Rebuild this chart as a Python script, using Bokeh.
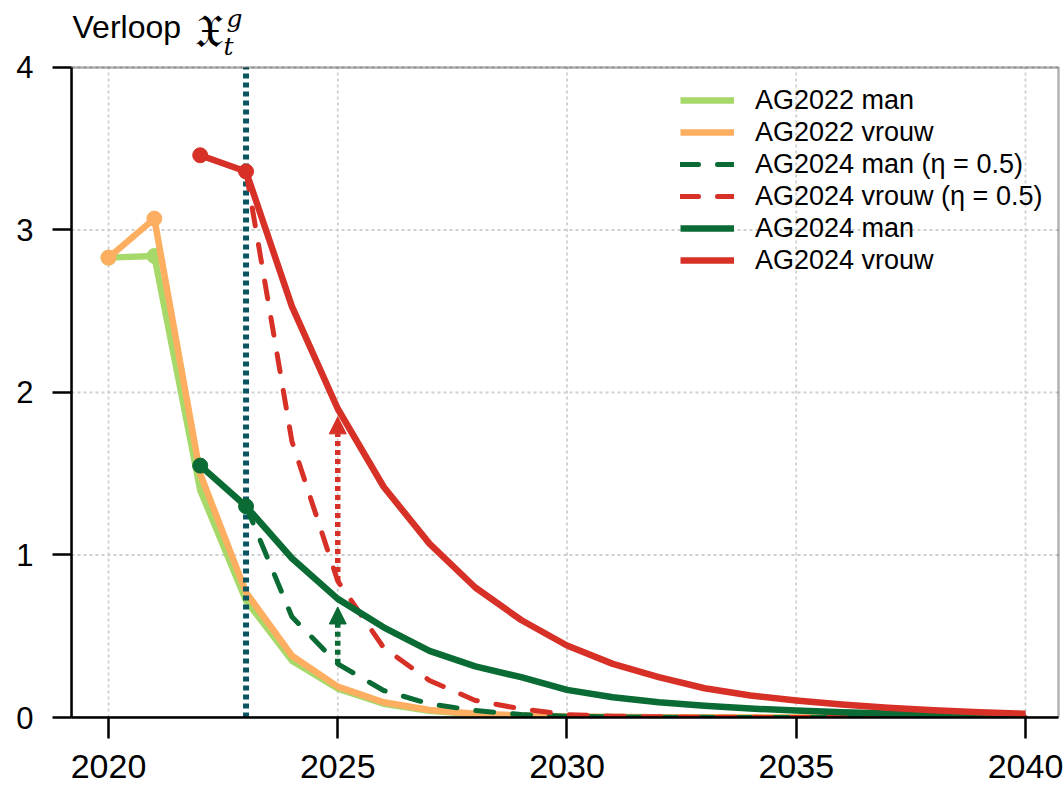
from bokeh.plotting import figure
from bokeh.models import Range1d, FixedTicker, Legend, LegendItem, Label, Arrow, NormalHead, BoxAnnotation
from bokeh.embed import file_html
from bokeh.resources import INLINE

# ---------------- data ----------------
years_2022 = list(range(2020, 2041))
ag2022_man = [2.83, 2.84, 1.40, 0.72, 0.35, 0.178, 0.085, 0.041, 0.02, 0.01, 0.005,
              0.003, 0.002, 0.001, 0.0, 0.0, 0.0, 0.0, 0.0, 0.0, 0.0]
ag2022_vrouw = [2.83, 3.07, 1.50, 0.77, 0.38, 0.19, 0.094, 0.046, 0.023, 0.012, 0.006,
                0.003, 0.002, 0.001, 0.0, 0.0, 0.0, 0.0, 0.0, 0.0, 0.0]

years_2024 = list(range(2022, 2041))
ag2024_man = [1.55, 1.30, 0.98, 0.73, 0.555, 0.41, 0.315, 0.248, 0.17, 0.125, 0.094,
              0.072, 0.055, 0.043, 0.033, 0.025, 0.019, 0.014, 0.01]
ag2024_vrouw = [3.46, 3.36, 2.53, 1.90, 1.42, 1.07, 0.80, 0.60, 0.443, 0.33, 0.248,
                0.18, 0.135, 0.105, 0.08, 0.06, 0.045, 0.032, 0.023]

years_eta = list(range(2023, 2041))
ag2024_man_eta = [1.30, 0.62, 0.33, 0.166, 0.084, 0.043, 0.018, 0.008, 0.004, 0.002,
                  0.001, 0.0, 0.0, 0.0, 0.0, 0.0, 0.0, 0.0]
ag2024_vrouw_eta = [3.36, 1.70, 0.84, 0.43, 0.228, 0.105, 0.053, 0.018, 0.008, 0.004,
                    0.002, 0.001, 0.0, 0.0, 0.0, 0.0, 0.0, 0.0]

marker_years_2022 = [2020, 2021]
marker_years_2024 = [2022, 2023]
cutoff_year = 2023
arrow_year = 2025

x_ticks = [2020, 2025, 2030, 2035, 2040]
y_ticks = [0, 1, 2, 3, 4]

legend_labels = ["AG2022 man", "AG2022 vrouw", "AG2024 man (\u03b7 = 0.5)",
                 "AG2024 vrouw (\u03b7 = 0.5)", "AG2024 man", "AG2024 vrouw"]
title_word = "Verloop"
title_symbol = "\U0001D51B"
title_sup = "g"
title_sub = "t"

# ---------------- styles / view ----------------
C_LGREEN = "#a6d96a"
C_ORANGE = "#fdae61"
C_DGREEN = "#0a6b34"
C_RED = "#d73027"
C_TEAL = "#0b5563"
C_GRID = "#cfcfcf"
FONT = "Liberation Sans"
LW = 6.5
X0, XB, XE = 2019.193, 2040.72, 2040.829   # frame left, plot-box right, frame right
Y0, YB, YE = 0, 4, 4.4123                  # bottom, plot-box top, frame top (room for title)

p = figure(width=1063, height=793,
           x_range=Range1d(X0, XE), y_range=Range1d(Y0, YE),
           output_backend="svg", toolbar_location=None,
           min_border_left=71, min_border_right=0, min_border_top=0, min_border_bottom=76)

p.outline_line_color = None
p.background_fill_color = "white"
p.border_fill_color = "white"
p.xgrid.grid_line_color = None
p.ygrid.grid_line_color = None

for ax in (p.xaxis[0], p.yaxis[0]):
    ax.axis_line_color = "black"
    ax.axis_line_width = 2.5
    ax.major_tick_line_color = "black"
    ax.major_tick_line_width = 2.5
    ax.major_tick_in = 0
    ax.minor_tick_line_color = None
    ax.major_label_text_font = FONT
    ax.major_label_text_color = "black"

p.xaxis.ticker = FixedTicker(ticks=x_ticks)
p.yaxis.ticker = FixedTicker(ticks=y_ticks)
p.xaxis.bounds = (X0, XB)
p.yaxis.bounds = (Y0, YB)
p.xaxis.major_tick_out = 21
p.yaxis.major_tick_out = 19
p.xaxis.major_label_text_font_size = "34px"
p.yaxis.major_label_text_font_size = "31px"
p.xaxis.major_label_standoff = 16
p.yaxis.major_label_standoff = 19

# dotted grid, limited to the plot box
n_x, n_y = len(x_ticks), len(y_ticks)
p.segment(x0=x_ticks, y0=[Y0] * n_x, x1=x_ticks, y1=[YB] * n_x,
          line_color=C_GRID, line_width=1.8, line_dash="3 3")
p.segment(x0=[X0] * n_y, y0=y_ticks, x1=[XB] * n_y, y1=y_ticks,
          line_color=C_GRID, line_width=1.8, line_dash="3 3")

# plot box (top and right edges)
p.add_layout(BoxAnnotation(left=X0, right=XB, bottom=Y0, top=YB, fill_alpha=0,
                           line_color="black", line_width=2.5))

# ---------------- lines ----------------
r_lg = p.line(years_2022, ag2022_man, line_color=C_LGREEN, line_width=LW, line_join="round")
p.scatter(marker_years_2022, ag2022_man[:2], size=15, color=C_LGREEN)
r_or = p.line(years_2022, ag2022_vrouw, line_color=C_ORANGE, line_width=LW, line_join="round")
p.scatter(marker_years_2022, ag2022_vrouw[:2], size=15, color=C_ORANGE)

p.segment(x0=[cutoff_year], y0=[y_ticks[0]], x1=[cutoff_year], y1=[y_ticks[-1]],
          line_color=C_TEAL, line_width=6, line_dash="5 4")

r_dg_eta = p.line(years_eta, ag2024_man_eta, line_color=C_DGREEN, line_width=5,
                  line_dash="18 19", line_cap="round", line_join="round")
r_rd_eta = p.line(years_eta, ag2024_vrouw_eta, line_color=C_RED, line_width=5,
                  line_dash="18 19", line_cap="round", line_join="round")

r_dg = p.line(years_2024, ag2024_man, line_color=C_DGREEN, line_width=LW, line_join="round")
p.scatter(marker_years_2024, ag2024_man[:2], size=15, color=C_DGREEN)
r_rd = p.line(years_2024, ag2024_vrouw, line_color=C_RED, line_width=LW, line_join="round")
p.scatter(marker_years_2024, ag2024_vrouw[:2], size=15, color=C_RED)

# arrows at 2025: from eta=0.5 value up to the full AG2024 value
i_eta = years_eta.index(arrow_year)
i_full = years_2024.index(arrow_year)
for col, lo, hi in ((C_DGREEN, ag2024_man_eta[i_eta], ag2024_man[i_full]),
                    (C_RED, ag2024_vrouw_eta[i_eta], ag2024_vrouw[i_full])):
    p.add_layout(Arrow(x_start=arrow_year, y_start=lo, x_end=arrow_year, y_end=hi - 0.05,
                       line_color=col, line_width=5.5, line_dash="5 4",
                       end=NormalHead(size=17, fill_color=col, line_color=col, line_width=1)))

# ---------------- legend ----------------
legend = Legend(items=[LegendItem(label=legend_labels[0], renderers=[r_lg]),
                       LegendItem(label=legend_labels[1], renderers=[r_or]),
                       LegendItem(label=legend_labels[2], renderers=[r_dg_eta]),
                       LegendItem(label=legend_labels[3], renderers=[r_rd_eta]),
                       LegendItem(label=legend_labels[4], renderers=[r_dg]),
                       LegendItem(label=legend_labels[5], renderers=[r_rd])],
                location=(609, 441), padding=0, margin=0, spacing=0,
                glyph_width=54, glyph_height=32, label_height=32, label_standoff=21,
                label_text_font=FONT, label_text_font_size="27px", label_text_color="black",
                background_fill_alpha=0, border_line_color=None)
p.add_layout(legend, "center")

# ---------------- title (above the plot box) ----------------
p.add_layout(Label(x=X0, y=YB, x_offset=1, y_offset=40, text=title_word,
                   text_font=FONT, text_font_size="32px", text_baseline="alphabetic",
                   text_color="black"))
p.add_layout(Label(x=X0, y=YB, x_offset=123, y_offset=36, text=title_symbol,
                   text_font="DejaVu Serif", text_font_size="46px", text_baseline="alphabetic",
                   text_color="black"))
p.add_layout(Label(x=X0, y=YB, x_offset=155, y_offset=49, text=title_sup,
                   text_font="DejaVu Serif", text_font_style="italic", text_font_size="25px",
                   text_baseline="alphabetic", text_color="black"))
p.add_layout(Label(x=X0, y=YB, x_offset=152, y_offset=21, text=title_sub,
                   text_font="DejaVu Serif", text_font_style="italic", text_font_size="25px",
                   text_baseline="alphabetic", text_color="black"))

open("out.html", "w").write(file_html(p, INLINE))
